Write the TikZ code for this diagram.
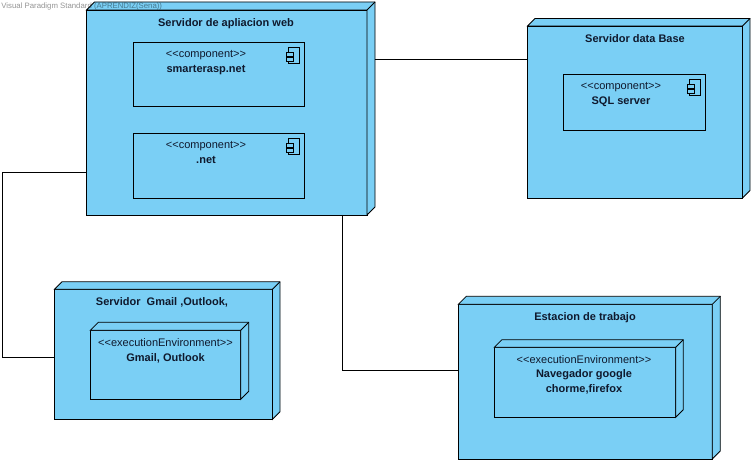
\documentclass[tikz,border=0pt]{standalone}
\usepackage{fontspec}
\setmainfont{Liberation Sans}
\usetikzlibrary{positioning}
\definecolor{nodeblue}{RGB}{122,207,245}
\definecolor{inktext}{RGB}{15,25,45}
\tikzset{
	box3d/.style={
		rectangle,
		draw,
		fill=nodeblue,
		anchor=north west,
		inner sep=0pt,
		outer sep=0pt,
	},
	compbox/.style={
		rectangle,
		draw,
		fill=nodeblue,
		anchor=north west,
		inner sep=0pt,
		outer sep=0pt,
	},
	title/.style={
		font=\fontsize{11}{15}\selectfont\bfseries,
		text=inktext,
		inner sep=0pt,
		align=center,
	},
	stereo/.style={
		font=\fontsize{11}{13}\selectfont,
		text=inktext,
		inner sep=0pt,
	},
	mark3d/.style={
		font=\fontsize{7.8}{10}\selectfont,
		text=black,
		opacity=0.42,
		inner sep=0pt,
		anchor=west,
	},
}
% side and top faces of a box
\newcommand{\sides}[2]{
	\draw [fill=nodeblue] (#1.north west) -- ++(#2,#2) -- ([shift={(#2,#2)}]#1.north east) -- ([shift={(#2,#2)}]#1.south east) -- (#1.south east) -- (#1.north east) -- cycle;
	\draw (#1.north east) -- ++(#2,#2);
}
% small component glyph
\newcommand{\glyph}[1]{
	\draw [fill=nodeblue, line width=0.7pt] ([xshift=-15.8pt,yshift=-4.8pt]#1.north east) rectangle ++(10.8,-16);
	\draw [fill=nodeblue, line width=0.7pt] ([xshift=-18.5pt,yshift=-9.5pt]#1.north east) rectangle ++(7,-4);
	\draw [fill=nodeblue, line width=0.7pt] ([xshift=-18.5pt,yshift=-15pt]#1.north east) rectangle ++(7,-4);
}
\begin{document}
\begin{tikzpicture}[x=1pt, y=1pt, line width=0.8pt, >=stealth]
	\useasboundingbox (0,0) rectangle (755,464);

	% Place nodes
	\node [box3d, minimum width=280.5pt, minimum height=205pt] (web) at (86.5,454) {};
	\sides{web}{8}
	\node [box3d, minimum width=215pt, minimum height=172pt] (db) at (527.5,438) {};
	\sides{db}{7.5}
	\node [box3d, minimum width=218pt, minimum height=130pt] (mail) at (54.5,174.7) {};
	\sides{mail}{7.5}
	\node [box3d, minimum width=254pt, minimum height=154.7pt] (work) at (458.3,159.7) {};
	\sides{work}{8}

	\node [mark3d] (wm) at (1,457.5) {Visual Paradigm Standard (APRENDIZ(Sena))};

	\node [compbox, minimum width=171pt, minimum height=64pt] (smart) at (133.5,421.5) {};
	\node [compbox, minimum width=171pt, minimum height=65pt] (dotnet) at (133.5,330.5) {};
	\node [compbox, minimum width=142pt, minimum height=56pt] (sql) at (563.5,389.5) {};
	\node [compbox, minimum width=150.4pt, minimum height=69pt] (gmail) at (90.3,133.7) {};
	\sides{gmail}{8}
	\node [compbox, minimum width=181.4pt, minimum height=70pt] (nav) at (494.3,116.7) {};
	\sides{nav}{7.6}

	\glyph{smart}
	\glyph{dotnet}
	\glyph{sql}

	% Texts
	\node [title] (webt) at (226,440.5) {Servidor de apliacion web};
	\node [stereo] (smarts) at (206,408.8) {<{}<component>{}>};
	\node [title, below=4.5pt of smarts] (smartn) {smarterasp.net};
	\node [stereo] (dotnets) at (206,317.8) {<{}<component>{}>};
	\node [title, below=4.5pt of dotnets] (dotnetn) {.net};
	\node [title] (dbt) at (635,425.5) {Servidor data Base};
	\node [stereo] (sqls) at (621,376.8) {<{}<component>{}>};
	\node [title, below=4.5pt of sqls] (sqln) {SQL server};
	\node [title] (mailt) at (162,161.5) {Servidor\ \ Gmail ,Outlook,};
	\node [stereo] (gmails) at (165.5,121) {<{}<executionEnvironment>{}>};
	\node [title, below=6pt of gmails] (gmailn) {Gmail, Outlook};
	\node [title] (workt) at (585,146.5) {Estacion de trabajo};
	\node [stereo] (navs) at (584,104) {<{}<executionEnvironment>{}>};
	\node [title, below=5pt of navs] (navn) {Navegador google\\chorme,firefox};

	% Connectors
	\coordinate (webdb) at (374.5,405);
	\coordinate (weblow) at (342,249);
	\coordinate (webmail) at (2.5,291.5);
	\coordinate (mailin) at (2.5,107);
	\coordinate (workin) at (342,93.5);

	\draw (webdb) to (webdb -| db.west);
	\draw (webmail -| web.west) -- (webmail) -- (mailin) -- (mailin -| mail.west);
	\draw (weblow) -- (workin) -- (workin -| work.west);
\end{tikzpicture}
\end{document}
